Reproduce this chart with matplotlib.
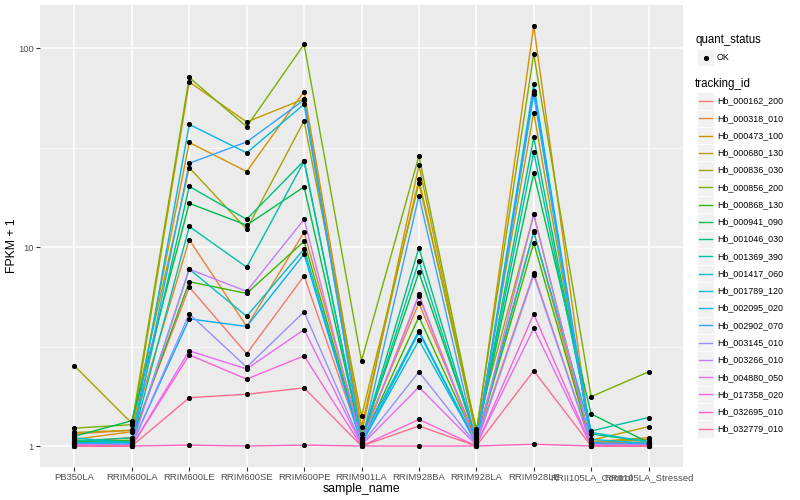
import numpy as np
import matplotlib
matplotlib.use("Agg")
import matplotlib.pyplot as plt
from matplotlib.patches import Rectangle
from matplotlib.lines import Line2D

plt.rcParams['font.family'] = ['Liberation Sans', 'DejaVu Sans']

samples = ['PB350LA', 'RRIM600LA', 'RRIM600LE', 'RRIM600SE', 'RRIM600PE', 'RRIM901LA',
           'RRIM928BA', 'RRIM928LA', 'RRIM928LE', 'RRII105LA_Control', 'RRII105LA_Stressed']

tracking_ids = ['Hb_000162_200', 'Hb_000318_010', 'Hb_000473_100', 'Hb_000680_130',
                'Hb_000836_030', 'Hb_000856_200', 'Hb_000868_130', 'Hb_000941_090',
                'Hb_001046_030', 'Hb_001369_390', 'Hb_001417_060', 'Hb_001789_120',
                'Hb_002095_020', 'Hb_002902_070', 'Hb_003145_010', 'Hb_003266_010',
                'Hb_004880_050', 'Hb_017358_020', 'Hb_032695_010', 'Hb_032779_010']

# FPKM + 1, one list per gene, in sample order
hb_000162_200 = [1.05, 1.10, 6.3, 2.91, 7.17, 1.05, 5.69, 1.05, 7.40, 1.02, 1.03]
hb_000318_010 = [1.15, 1.20, 10.9, 3.99, 11.9, 1.10, 5.23, 1.08, 12.0, 1.03, 1.05]
hb_000473_100 = [1.08, 1.18, 33.6, 24.0, 60.6, 1.25, 21.9, 1.15, 129.4, 1.05, 1.10]
hb_000680_130 = [1.17, 1.20, 67.7, 42.6, 55.6, 1.15, 25.8, 1.12, 47.5, 1.07, 1.25]
hb_000836_030 = [2.53, 1.30, 25.1, 12.3, 43.1, 1.41, 20.9, 1.22, 14.6, 1.04, 1.08]
hb_000856_200 = [1.23, 1.28, 71.3, 40.3, 104.7, 2.68, 28.7, 1.18, 93.6, 1.77, 2.36]
hb_000868_130 = [1.05, 1.07, 6.7, 5.85, 10.7, 1.04, 4.46, 1.05, 10.5, 1.02, 1.02]
hb_000941_090 = [1.12, 1.34, 16.6, 12.9, 20.1, 1.08, 7.46, 1.10, 23.5, 1.45, 1.04]
hb_001046_030 = [1.06, 1.10, 20.2, 13.8, 27.2, 1.06, 9.92, 1.07, 35.6, 1.15, 1.05]
hb_001369_390 = [1.07, 1.05, 12.7, 7.93, 27.0, 1.05, 8.51, 1.06, 30.0, 1.19, 1.39]
hb_001417_060 = [1.10, 1.03, 7.75, 4.49, 9.78, 1.03, 3.40, 1.04, 11.9, 1.17, 1.05]
hb_001789_120 = [1.04, 1.04, 41.4, 29.8, 52.3, 1.07, 3.80, 1.03, 65.9, 1.08, 1.03]
hb_002095_020 = [1.03, 1.02, 4.36, 3.99, 9.22, 1.02, 3.73, 1.02, 61.0, 1.03, 1.02]
hb_002902_070 = [1.02, 1.02, 26.4, 33.8, 55.0, 1.04, 18.1, 1.03, 58.7, 1.04, 1.02]
hb_003145_010 = [1.01, 1.01, 4.62, 2.49, 4.73, 1.02, 2.36, 1.02, 7.23, 1.01, 1.01]
hb_003266_010 = [1.02, 1.01, 7.75, 5.99, 13.8, 1.03, 5.78, 1.01, 14.6, 1.02, 1.01]
hb_004880_050 = [1.0, 1.0, 3.01, 2.44, 3.85, 1.01, 1.98, 1.01, 3.90, 1.0, 1.0]
hb_017358_020 = [1.0, 1.0, 2.87, 2.17, 2.84, 1.0, 1.36, 1.0, 4.61, 1.0, 1.0]
hb_032695_010 = [1.0, 1.0, 1.01, 1.0, 1.01, 1.0, 1.0, 1.0, 1.02, 1.0, 1.0]
hb_032779_010 = [1.0, 1.0, 1.75, 1.82, 1.96, 1.0, 1.26, 1.0, 2.39, 1.0, 1.0]

series = [hb_000162_200, hb_000318_010, hb_000473_100, hb_000680_130, hb_000836_030,
          hb_000856_200, hb_000868_130, hb_000941_090, hb_001046_030, hb_001369_390,
          hb_001417_060, hb_001789_120, hb_002095_020, hb_002902_070, hb_003145_010,
          hb_003266_010, hb_004880_050, hb_017358_020, hb_032695_010, hb_032779_010]

# ggplot2 default hue palette for 20 levels
colors = ['#F8766D', '#EA8331', '#D89000', '#C09B00', '#A3A500', '#7CAE00', '#39B600',
          '#00BB4E', '#00BF7D', '#00C1A3', '#00BFC4', '#00BAE0', '#00B0F6', '#35A2FF',
          '#9590FF', '#C77CFF', '#E76BF3', '#FA62DB', '#FF62BC', '#FF6C90']

W, H = 800, 500
fig = plt.figure(figsize=(8, 5), dpi=100)
ax = fig.add_axes([40 / W, 1 - 467 / H, (683 - 40) / W, (467 - 5) / H])
ax.set_facecolor('#EBEBEB')

x = np.arange(len(samples))
for vals, c in zip(series, colors):
    ax.plot(x, vals, color=c, lw=1.0, zorder=3)
for vals in series:
    ax.plot(x, vals, 'o', color='black', ms=2.7, zorder=4)

ax.set_yscale('log')
lo, hi = 0.0, np.log10(max(max(s) for s in series))
pad = (hi - lo) * 0.05
ax.set_ylim(10 ** (lo - pad), 10 ** (hi + pad))
ax.set_xlim(-0.6, len(samples) - 0.4)

ax.set_yticks([1, 10, 100])
ax.set_yticklabels(['1', '10', '100'])
ax.set_yticks([10 ** 0.5, 10 ** 1.5], minor=True)
ax.yaxis.set_minor_formatter(matplotlib.ticker.NullFormatter())
ax.set_xticks(x)
ax.set_xticklabels(samples)

ax.grid(True, which='major', color='white', lw=1.1, zorder=0)
ax.grid(True, which='minor', axis='y', color='white', lw=0.55, zorder=0)
ax.set_axisbelow(True)
for sp in ax.spines.values():
    sp.set_visible(False)
ax.tick_params(which='major', length=3, width=0.8, color='#333333', labelcolor='#4D4D4D',
               labelsize=6.8, pad=1.5)
ax.tick_params(which='minor', length=0)

ax.set_xlabel('sample_name', fontsize=8.8)
ax.set_ylabel('FPKM + 1', fontsize=8.8)
ax.xaxis.set_label_coords(0.5, -(483 - 467) / 462)
ax.yaxis.set_label_coords(-(40 - 18) / 643, 0.48)


def fx(px):
    return px / W


def fy(py):
    return 1 - py / H


# legend: quant_status
fig.text(fx(695), fy(40), 'quant_status', fontsize=8.3, va='center', ha='left')
fig.add_artist(Rectangle((fx(697), fy(66)), 17 / W, 17 / H, transform=fig.transFigure,
                         facecolor='#F2F2F2', edgecolor='white', lw=0.5))
fig.add_artist(Line2D([fx(705.5)], [fy(57.5)], marker='o', ms=2.7, color='black',
                      transform=fig.transFigure))
fig.text(fx(717), fy(57.5), 'OK', fontsize=6.4, va='center', ha='left')

# legend: tracking_id
fig.text(fx(695), fy(84), 'tracking_id', fontsize=8.3, va='center', ha='left')
step = (429 - 101) / 19
for i, (tid, c) in enumerate(zip(tracking_ids, colors)):
    yc = 101 + i * step
    fig.add_artist(Rectangle((fx(697), fy(yc + 8.6)), 17 / W, 17.2 / H,
                             transform=fig.transFigure, facecolor='#F2F2F2',
                             edgecolor='white', lw=0.5))
    fig.add_artist(Line2D([fx(699), fx(712)], [fy(yc), fy(yc)], color=c, lw=1.0,
                          transform=fig.transFigure))
    fig.text(fx(717), fy(yc), tid, fontsize=6.4, va='center', ha='left')

fig.savefig('out.png', dpi=100)
